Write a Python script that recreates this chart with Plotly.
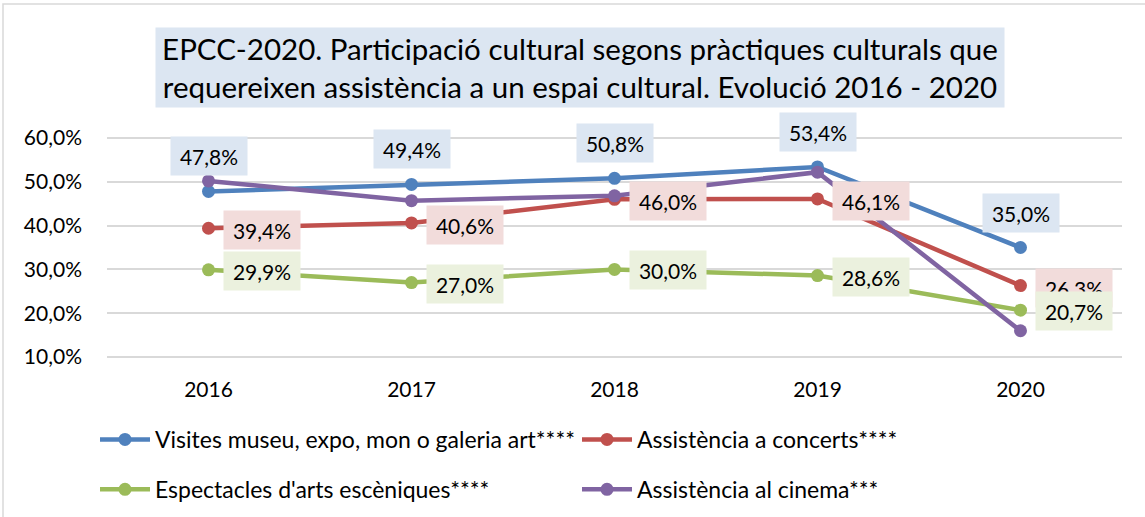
import plotly.graph_objects as go

years = ["2016", "2017", "2018", "2019", "2020"]
museus = [47.8, 49.4, 50.8, 53.4, 35.0]
concerts = [39.4, 40.6, 46.0, 46.1, 26.3]
escenics = [29.9, 27.0, 30.0, 28.6, 20.7]
cinema = [50.2, 45.7, 46.8, 52.2, 16.0]

names = [
    "Visites museu, expo, mon o galeria art****",
    "Assistència a concerts****",
    "Espectacles d'arts escèniques****",
    "Assistència al cinema***",
]
colors = ["#4F81BD", "#C0504D", "#9BBB59", "#8064A2"]
label_bg = ["#DCE6F2", "#F2DCDB", "#EBF1DE", None]
legends = ["legend", "legend2", "legend", "legend2"]

FONT = "Lato, Calibri, sans-serif"
W, H = 1145, 517


def px_x(p):
    return p / W


def px_y(p):
    return 1 - p / H


fig = go.Figure()
series = [museus, concerts, escenics, cinema]
for i, vals in enumerate(series):
    fig.add_trace(go.Scatter(
        x=years, y=vals, name=names[i], mode="lines+markers",
        line=dict(color=colors[i], width=4.5),
        marker=dict(color=colors[i], size=13),
        legend=legends[i], legendgroup=str(i),
        cliponaxis=False,
    ))

# data labels: blue above, red / green to the right, purple none
annotations = []
for i in [0, 1, 2]:
    for k, v in enumerate(series[i]):
        txt = f"{v:.1f}%".replace(".", ",")
        if i == 0:
            shift = dict(xshift=0, yshift=35)
        else:
            shift = dict(xshift=53, yshift=-2 if i == 1 else -1)
        annotations.append(dict(
            x=k, y=v, xref="x", yref="y", text=txt, showarrow=False,
            bgcolor=label_bg[i], width=74, height=36,
            font=dict(family=FONT, size=21, color="#000000"),
            **shift,
        ))

annotations.append(dict(
    text="EPCC-2020. Participació cultural segons pràctiques culturals que<br>"
         "requereixen assistència a un espai cultural. Evolució 2016 - 2020",
    xref="paper", yref="paper",
    x=px_x(580), y=px_y(67.5),
    xanchor="center", yanchor="middle", showarrow=False,
    bgcolor="#DCE6F2", width=846, height=77,
    font=dict(family=FONT, size=29.5, color="#000000"),
))

leg = dict(
    y=px_y(418), xanchor="left", yanchor="top", orientation="v",
    tracegroupgap=17, font=dict(size=23), itemwidth=50,
)

fig.update_layout(
    width=W, height=H,
    margin=dict(l=0, r=0, t=0, b=0),
    paper_bgcolor="white", plot_bgcolor="white",
    separators=",.",
    font=dict(family=FONT, size=22, color="#000000"),
    showlegend=True,
    legend=dict(leg, x=px_x(95)),
    legend2=dict(leg, x=px_x(577)),
    annotations=annotations,
    shapes=[dict(
        type="rect", xref="paper", yref="paper",
        x0=px_x(3), x1=1.01, y0=-0.01, y1=px_y(4),
        line=dict(color="#D9D9D9", width=1.5), layer="below",
    )],
)
fig.update_xaxes(
    domain=[px_x(107), px_x(1122)], automargin=False,
    range=[-0.5, 4.5], showgrid=False, showline=False, zeroline=False,
    ticks="", ticklabelstandoff=16, tickfont=dict(size=21),
)
fig.update_yaxes(
    domain=[px_y(359.2), px_y(135.8)], automargin=False,
    range=[9.5, 60.5], tickmode="linear", tick0=0, dtick=10,
    tickformat=".1f", ticksuffix="%",
    showgrid=True, gridcolor="#D9D9D9", gridwidth=1.5,
    zeroline=False, showline=False, ticks="", ticklabelstandoff=24,
    tickfont=dict(size=21),
)

# drop the browser's default body margin so the figure sits at (0, 0)
fig.write_html(
    "out.html",
    config={"displayModeBar": False},
    post_script="document.body.style.margin = '0';",
)
